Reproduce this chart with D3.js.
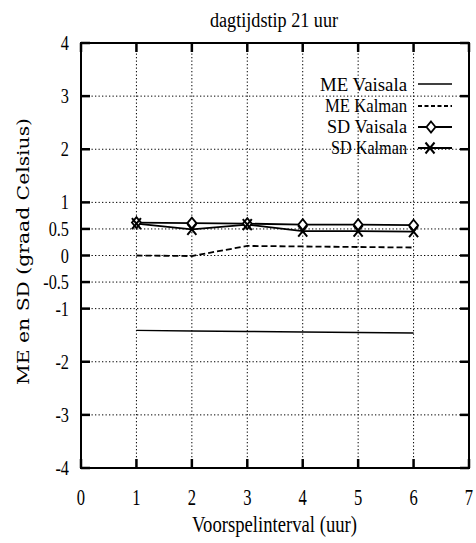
<!DOCTYPE html>
<html>
<head>
<meta charset="utf-8">
<script src="https://cdn.jsdelivr.net/npm/d3@7"></script>
<style>
  body { margin: 0; background: white; }
  text { font-family: "Liberation Serif", "DejaVu Serif", serif; fill: black; }
</style>
</head>
<body>
<script>
'use strict'

let hours = [1, 2, 3, 4, 5, 6]
let meVaisala = [-1.41, -1.42, -1.43, -1.44, -1.45, -1.46]
let meKalman = [0, -0.01, 0.18, 0.17, 0.16, 0.15]
let sdVaisala = [0.62, 0.61, 0.6, 0.58, 0.58, 0.57]
let sdKalman = [0.6, 0.49, 0.58, 0.46, 0.46, 0.45]
let xTicks = [0, 1, 2, 3, 4, 5, 6, 7]
let yTicks = [-4, -3, -2, -1, -0.5, 0, 0.5, 1, 2, 3, 4]
let seriesNames = ['ME Vaisala', 'ME Kalman', 'SD Vaisala', 'SD Kalman']

let width = 476,
    height = 543,
    plotLeft = 81,
    plotRight = 469,
    plotTop = 43,
    plotBottom = 468

let svg = d3.select('body').append('svg')
    .attr('width', width)
    .attr('height', height)

let x = d3.scaleLinear().domain([0, 7]).range([plotLeft, plotRight])
let y = d3.scaleLinear().domain([-4, 4]).range([plotBottom, plotTop])

// narrow text helper, the original uses a condensed Times
function narrowText(px, py, str, size, sx, anchor) {
    return svg.append('text')
        .attr('transform', 'translate(' + px + ',' + py + ') scale(' + sx + ',1)')
        .attr('text-anchor', anchor)
        .attr('font-size', size)
        .text(str)
}

// grid
svg.selectAll('.hgrid').data(yTicks.slice(1, -1)).enter()
    .append('line')
    .attr('x1', plotLeft).attr('x2', plotRight)
    .attr('y1', d => y(d)).attr('y2', d => y(d))
    .attr('stroke', 'black')
    .attr('stroke-width', 1)
    .attr('stroke-dasharray', '1.3,2.2')

svg.selectAll('.vgrid').data(xTicks.slice(1, -1)).enter()
    .append('line')
    .attr('x1', d => x(d)).attr('x2', d => x(d))
    .attr('y1', plotTop).attr('y2', plotBottom)
    .attr('stroke', 'black')
    .attr('stroke-width', 1)
    .attr('stroke-dasharray', '1.3,2.2')

// frame
svg.append('rect')
    .attr('x', plotLeft).attr('y', plotTop)
    .attr('width', plotRight - plotLeft).attr('height', plotBottom - plotTop)
    .attr('fill', 'none')
    .attr('stroke', 'black')
    .attr('stroke-width', 2)

// ticks on all four sides
let tickLen = 9
yTicks.forEach(d => {
    svg.append('line').attr('x1', plotLeft).attr('x2', plotLeft + tickLen)
        .attr('y1', y(d)).attr('y2', y(d)).attr('stroke', 'black').attr('stroke-width', 2.5)
    svg.append('line').attr('x1', plotRight - tickLen).attr('x2', plotRight)
        .attr('y1', y(d)).attr('y2', y(d)).attr('stroke', 'black').attr('stroke-width', 2.5)
})
xTicks.forEach(d => {
    svg.append('line').attr('x1', x(d)).attr('x2', x(d))
        .attr('y1', plotBottom - tickLen).attr('y2', plotBottom).attr('stroke', 'black').attr('stroke-width', 2.5)
    svg.append('line').attr('x1', x(d)).attr('x2', x(d))
        .attr('y1', plotTop).attr('y2', plotTop + tickLen).attr('stroke', 'black').attr('stroke-width', 2.5)
})

// tick labels
yTicks.forEach(d => narrowText(plotLeft - 12, y(d) + 7, d, 22, 0.74, 'end'))
xTicks.forEach(d => narrowText(x(d), 505, d, 23, 0.72, 'middle'))

// titles
svg.append('text')
    .attr('x', 210).attr('y', 27)
    .attr('font-size', 20)
    .attr('textLength', 128)
    .attr('lengthAdjust', 'spacingAndGlyphs')
    .text('dagtijdstip 21 uur')

svg.append('text')
    .attr('x', 192).attr('y', 532)
    .attr('font-size', 24)
    .attr('textLength', 165)
    .attr('lengthAdjust', 'spacingAndGlyphs')
    .text('Voorspelinterval (uur)')

svg.append('text')
    .attr('transform', 'translate(29,385) rotate(-90)')
    .style('font-family', '"DejaVu Serif", serif')
    .attr('font-size', 16)
    .attr('textLength', 267)
    .attr('lengthAdjust', 'spacingAndGlyphs')
    .text('ME en SD (graad Celsius)')

// series
let line = d3.line()
    .x((d, i) => x(hours[i]))
    .y(d => y(d))

svg.append('path').datum(meVaisala)
    .attr('d', line).attr('fill', 'none').attr('stroke', 'black').attr('stroke-width', 1.4)

svg.append('path').datum(meKalman)
    .attr('d', line).attr('fill', 'none').attr('stroke', 'black').attr('stroke-width', 1.8)
    .attr('stroke-dasharray', '6,3')

svg.append('path').datum(sdVaisala)
    .attr('d', line).attr('fill', 'none').attr('stroke', 'black').attr('stroke-width', 1.8)

svg.append('path').datum(sdKalman)
    .attr('d', line).attr('fill', 'none').attr('stroke', 'black').attr('stroke-width', 1.8)

function diamond(cx, cy) {
    svg.append('path')
        .attr('d', 'M' + cx + ',' + (cy - 5.5) + 'L' + (cx + 4.5) + ',' + cy + 'L' + cx + ',' + (cy + 5.5) + 'L' + (cx - 4.5) + ',' + cy + 'Z')
        .attr('fill', 'white').attr('stroke', 'black').attr('stroke-width', 1.8)
}
function cross(cx, cy) {
    svg.append('path')
        .attr('d', 'M' + (cx - 4.5) + ',' + (cy - 5.5) + 'L' + (cx + 4.5) + ',' + (cy + 5.5) + 'M' + (cx + 4.5) + ',' + (cy - 5.5) + 'L' + (cx - 4.5) + ',' + (cy + 5.5))
        .attr('stroke', 'black').attr('stroke-width', 2)
}

sdVaisala.forEach((d, i) => diamond(x(hours[i]), y(d)))
sdKalman.forEach((d, i) => cross(x(hours[i]), y(d)))

// legend
let legendBase = [91, 112, 133, 154],
    legendLine = [84, 106, 127, 148],
    legendWidth = [87, 82, 80, 76]
let legendRight = 407,
    sampleX1 = 418,
    sampleX2 = 452

seriesNames.forEach((name, i) => {
    svg.append('text')
        .attr('x', legendRight - legendWidth[i])
        .attr('y', legendBase[i])
        .attr('font-size', 19)
        .attr('textLength', legendWidth[i])
        .attr('lengthAdjust', 'spacingAndGlyphs')
        .text(name)
    let l = svg.append('line')
        .attr('x1', sampleX1).attr('x2', sampleX2)
        .attr('y1', legendLine[i]).attr('y2', legendLine[i])
        .attr('stroke', 'black').attr('stroke-width', i === 0 ? 1.4 : 1.8)
    if (i === 1) l.attr('stroke-dasharray', '4,2.5')
    if (i === 2) diamond(431, legendLine[i])
    if (i === 3) cross(430, legendLine[i])
})
</script>
</body>
</html>
